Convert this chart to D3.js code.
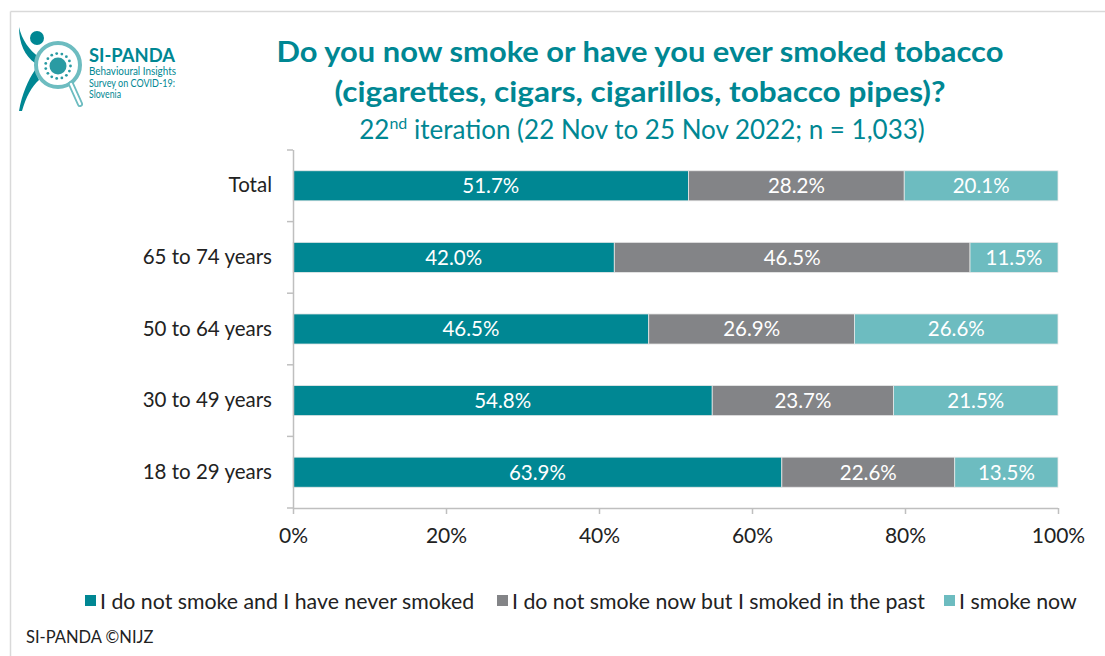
<!DOCTYPE html>
<html>
<head>
<meta charset="utf-8">
<script src="https://cdn.jsdelivr.net/npm/d3@7"></script>
<style>
  html, body { margin: 0; padding: 0; background: #fff; }
  svg { display: block; font-family: Lato, "Open Sans", sans-serif; }
</style>
</head>
<body>
<svg id="chart" width="1105" height="656"></svg>
<script>
// Survey answers by age group, in percent
const categories = ["Total", "65 to 74 years", "50 to 64 years", "30 to 49 years", "18 to 29 years"];
const seriesNames = [
  "I do not smoke and I have never smoked",
  "I do not smoke now but I smoked in the past",
  "I smoke now"
];
const neverSmoked = [51.7, 42.0, 46.5, 54.8, 63.9];
const pastSmoker  = [28.2, 46.5, 26.9, 23.7, 22.6];
const smokesNow   = [20.1, 11.5, 26.6, 21.5, 13.5];
const xTicks = [0, 20, 40, 60, 80, 100];

const colors = ["#008793", "#838487", "#6dbcc0"];
const teal = "#008793";

const svg = d3.select("#chart");

// outer frame (top and left edges)
svg.append("line").attr("x1", 10.5).attr("x2", 1105).attr("y1", 11.5).attr("y2", 11.5)
  .attr("stroke", "#d9d9d9").attr("stroke-width", 1.5);
svg.append("line").attr("x1", 10.5).attr("x2", 10.5).attr("y1", 11.5).attr("y2", 656)
  .attr("stroke", "#d9d9d9").attr("stroke-width", 1.5);

// logo
const logo = svg.append("g");
logo.append("path")
  .attr("d", "M19,27 C22,40 29,50 39,57 L35,63 C25,56 19,44 19,27 Z")
  .attr("fill", teal);
logo.append("circle").attr("cx", 37).attr("cy", 38).attr("r", 7).attr("fill", teal);
logo.append("path")
  .attr("d", "M35,70 C28,80 22,94 19,111 L22,111 C26,97 32,86 39,80 Z")
  .attr("fill", teal);
logo.append("circle").attr("cx", 58).attr("cy", 65).attr("r", 22)
  .attr("fill", "none").attr("stroke", "#6dbcc0").attr("stroke-width", 4);
logo.append("line").attr("x1", 71).attr("y1", 84).attr("x2", 80).attr("y2", 104)
  .attr("stroke", "#6dbcc0").attr("stroke-width", 6).attr("stroke-linecap", "round");
logo.append("line").attr("x1", 71).attr("y1", 84).attr("x2", 80).attr("y2", 104)
  .attr("stroke", "#fff").attr("stroke-width", 2.4).attr("stroke-linecap", "round");
logo.append("circle").attr("cx", 58).attr("cy", 66).attr("r", 8.5).attr("fill", "#2a9ba3");
d3.range(0, 360, 24).forEach(a => {
  const r = a * Math.PI / 180;
  logo.append("circle").attr("cx", 58 + 12.5 * Math.cos(r)).attr("cy", 66 + 12.5 * Math.sin(r))
    .attr("r", 1.4).attr("fill", "#2a9ba3");
});
logo.append("text").attr("x", 89).attr("y", 62).attr("font-size", 19).attr("font-weight", 700)
  .attr("fill", teal).attr("textLength", 86).attr("lengthAdjust", "spacingAndGlyphs").text("SI-PANDA");
const logoLines = ["Behavioural Insights", "Survey on COVID-19:", "Slovenia"];
const logoLens = [87, 86, 32];
logoLines.forEach((t, i) => {
  logo.append("text").attr("x", 89).attr("y", 75 + i * 11.5).attr("font-size", 10.5)
    .attr("fill", teal).attr("textLength", logoLens[i]).attr("lengthAdjust", "spacingAndGlyphs").text(t);
});

// titles
svg.append("text").attr("x", 640).attr("y", 62).attr("text-anchor", "middle")
  .attr("font-size", 29).attr("font-weight", 700).attr("fill", teal)
  .attr("textLength", 727).attr("lengthAdjust", "spacingAndGlyphs")
  .text("Do you now smoke or have you ever smoked tobacco");
svg.append("text").attr("x", 640).attr("y", 102).attr("text-anchor", "middle")
  .attr("font-size", 29).attr("font-weight", 700).attr("fill", teal)
  .attr("textLength", 611).attr("lengthAdjust", "spacingAndGlyphs")
  .text("(cigarettes, cigars, cigarillos, tobacco pipes)?");
const sub = svg.append("text").attr("x", 642).attr("y", 139).attr("text-anchor", "middle")
  .attr("font-size", 26).attr("fill", teal);
sub.append("tspan").text("22");
sub.append("tspan").attr("dy", -10).attr("font-size", 16).text("nd");
sub.append("tspan").attr("dy", 10).text(" iteration (22 Nov to 25 Nov 2022; n = 1,033)");

// plot area
const plotLeft = 293, plotRight = 1058, plotTop = 150, plotBottom = 508;
const x = d3.scaleLinear().domain([0, 100]).range([plotLeft, plotRight]);
const y = d3.scaleBand().domain(categories).range([plotTop, plotBottom]).paddingInner(0.58).paddingOuter(0.29);

const rows = categories.map((c, i) => ({ cat: c, vals: [neverSmoked[i], pastSmoker[i], smokesNow[i]] }));
const stacked = d3.stack().keys([0, 1, 2]).value((d, k) => d.vals[k])(rows);

const barG = svg.append("g");
stacked.forEach((layer, k) => {
  const g = barG.append("g");
  g.selectAll("rect").data(layer).join("rect")
    .attr("x", d => x(d[0]))
    .attr("y", d => y(d.data.cat))
    .attr("width", d => x(d[1]) - x(d[0]))
    .attr("height", y.bandwidth())
    .attr("fill", colors[k])
    .attr("stroke", "#e8e8e8").attr("stroke-width", 0.8);
  g.selectAll("text").data(layer).join("text")
    .attr("x", d => (x(d[0]) + x(d[1])) / 2)
    .attr("y", d => y(d.data.cat) + y.bandwidth() / 2)
    .attr("dy", "0.36em")
    .attr("text-anchor", "middle")
    .attr("font-size", 20.5)
    .attr("fill", "#fff")
    .text(d => (d[1] - d[0]).toFixed(1) + "%");
});

// axes
const axisColor = "#bfbfbf";
const yAxis = svg.append("g").attr("transform", `translate(${plotLeft},0)`)
  .call(d3.axisLeft(y).tickSize(0).tickPadding(21));
yAxis.select(".domain").attr("stroke", axisColor).attr("stroke-width", 1.5)
  .attr("d", `M0.5,${plotTop}V${plotBottom}`);
yAxis.selectAll("text").attr("font-size", 20.5).attr("fill", "#222").attr("font-family", "Lato, sans-serif");
// category separator ticks
d3.range(categories.length + 1).forEach(i => {
  const yy = plotTop + i * (plotBottom - plotTop) / categories.length;
  yAxis.append("line").attr("x1", -6).attr("x2", 0).attr("y1", yy).attr("y2", yy)
    .attr("stroke", axisColor).attr("stroke-width", 1.5);
});

const xAxis = svg.append("g").attr("transform", `translate(0,${plotBottom})`)
  .call(d3.axisBottom(x).tickValues(xTicks).tickFormat(d => d + "%").tickSize(6).tickPadding(14));
xAxis.select(".domain").attr("stroke", axisColor).attr("stroke-width", 1.5)
  .attr("d", `M${plotLeft},0.5H${plotRight}`);
xAxis.selectAll(".tick line").attr("stroke", axisColor).attr("stroke-width", 1.5);
xAxis.selectAll("text").attr("font-size", 21).attr("fill", "#222").attr("font-family", "Lato, sans-serif");

// legend
const legendX = [85, 497, 944];
const legend = svg.append("g");
seriesNames.forEach((n, i) => {
  legend.append("rect").attr("x", legendX[i]).attr("y", 595).attr("width", 11).attr("height", 11)
    .attr("fill", colors[i]);
  legend.append("text").attr("x", legendX[i] + 15).attr("y", 601).attr("dy", "0.36em")
    .attr("font-size", 21.3).attr("fill", "#222").text(n);
});

// footer
svg.append("text").attr("x", 26).attr("y", 643).attr("font-size", 16.5).attr("fill", "#222")
  .text("SI-PANDA ©NIJZ");
</script>
</body>
</html>
